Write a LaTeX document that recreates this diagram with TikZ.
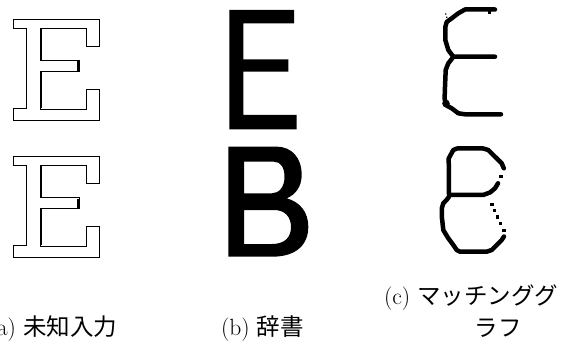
\documentclass[tikz,border=0pt]{standalone}
\usepackage{fontspec}
\newfontfamily\cjk{Noto Sans CJK JP}
\begin{document}
\begin{tikzpicture}[x=1pt,y=-1pt,
  outl/.style={line width=0.9pt,line join=miter},
  thk/.style={line width=2.4pt},
  skel/.style={line width=4.5pt,line join=round,line cap=round},
  dotsq/.style={fill=black,minimum size=3.6pt,inner sep=0pt,outer sep=0pt},
  lab/.style={inner sep=0pt,outer sep=0pt,font=\fontsize{23.5}{27}\selectfont}]
\useasboundingbox (0,0) rectangle (561,347);
% outline E (top and bottom)
\foreach \dy/\nm in {0/eA,137/eB}{
  \begin{scope}[yshift=-\dy pt]
  \draw[outl] (13.3,19.3) -- (99,19.3) -- (99,46) -- (86,46) -- (86,28.5) -- (40,28.5)
    -- (40,60.7) -- (79,60.7) -- (79,71.7) -- (40,71.7) -- (40,109) -- (86,109)
    -- (86,89.3) -- (99,89.3) -- (99,120) -- (13.3,120) -- (13.3,108.3) -- (26.7,108.3)
    -- (26.7,28.5) -- (13.3,28.5) -- cycle;
  \draw[thk] (41.2,29.5) -- (41.2,60.2) (41.2,72.2) -- (41.2,108.3);
  \draw[thk] (78,61.5) -- (78,71);
  \end{scope}
}
% bold E
\fill (229.3,10) -- (294,10) -- (294,23.3) -- (243.3,23.3) -- (243.3,59.3) -- (288.3,59.3)
  -- (288.3,71.7) -- (243.3,71.7) -- (243.3,115) -- (296.7,115) -- (296.7,129.3)
  -- (229.3,129.3) -- cycle;
% bold B
\fill[even odd rule] (228.3,146.7) -- (276.7,146.7) .. controls (292,146.7) and (301.7,158) .. (301.7,175)
  .. controls (301.7,187) and (295,195) .. (286.7,198.3)
  .. controls (300,202) and (308.3,212) .. (308.3,226.7)
  .. controls (308.3,245) and (296,256.7) .. (272,256.7) -- (228.3,256.7) -- cycle
  (244,161.7) -- (274,161.7) .. controls (281,161.7) and (284.5,168) .. (284.5,177)
  .. controls (284.5,187) and (279,193.3) .. (272,193.3) -- (244,193.3) -- cycle
  (244,210) -- (274,210) .. controls (285,210) and (291,217) .. (291,227)
  .. controls (291,238) and (284,244) .. (272,244) -- (244,244) -- cycle;
% skeleton E
\draw[skel] (495,9.5) -- (465,9.5) -- (458.3,13.3) -- (451.7,18.3) -- (446.7,22) -- (445.3,27)
  -- (445.3,40) -- (448.3,50) -- (453.3,56.7) -- (495,56.7);
\draw[skel] (453.3,57) -- (448.3,63.3) -- (445.7,70) -- (445,86.7) -- (444.6,98.3) -- (445.7,105)
  -- (451.7,108.3) -- (458.3,113.3) -- (465,114.3) -- (501,114.3);
\fill (446,103.5) circle (3.8pt);
\fill (488,11) rectangle (491,14.5);
\fill (445,13.3) rectangle (446.3,14.6) (446,16.6) rectangle (447.3,17.9);
% skeleton B
\draw[skel] (449,195) -- (448.7,158.3) -- (449.5,157) -- (453.3,150) -- (457,148.5) -- (483.3,148.5)
  -- (488.3,150) -- (495,156.7) -- (501.7,163.3) -- (503.8,168.3);
\draw[skel] (498,183.3) -- (495,188.3) -- (490,192.5) -- (483,195) -- (450,195);
\draw[skel] (449,196.7) -- (446.5,200) -- (443.3,203.3) -- (441.8,208.3) -- (441.8,216.7)
  -- (443.3,230) -- (448.3,238.3) -- (453.3,245) -- (456.7,250) -- (460,251.7) -- (486.7,251.7)
  -- (491.7,250) -- (496.7,245) -- (501.7,240) -- (504,236.5);
\foreach \p/\q in {501/176.7,504/230.5,500.5/223.3,497.5/216.7,494.5/210.5,492/204.5}{
  \node[dotsq] at (\p,\q) {};
}
% labels
\node[lab,anchor=base east] (la) at (117,335) {(a) {\cjk 未知入力}};
\node[lab,anchor=base west] (lb) at (221,335) {(b) {\cjk 辞書}};
\node[lab,anchor=base west] (lc1) at (384,304) {(c) {\cjk マッチンググ}};
\node[lab,anchor=base] (lc2) at (498,336) {\cjk ラフ};
\end{tikzpicture}
\end{document}
